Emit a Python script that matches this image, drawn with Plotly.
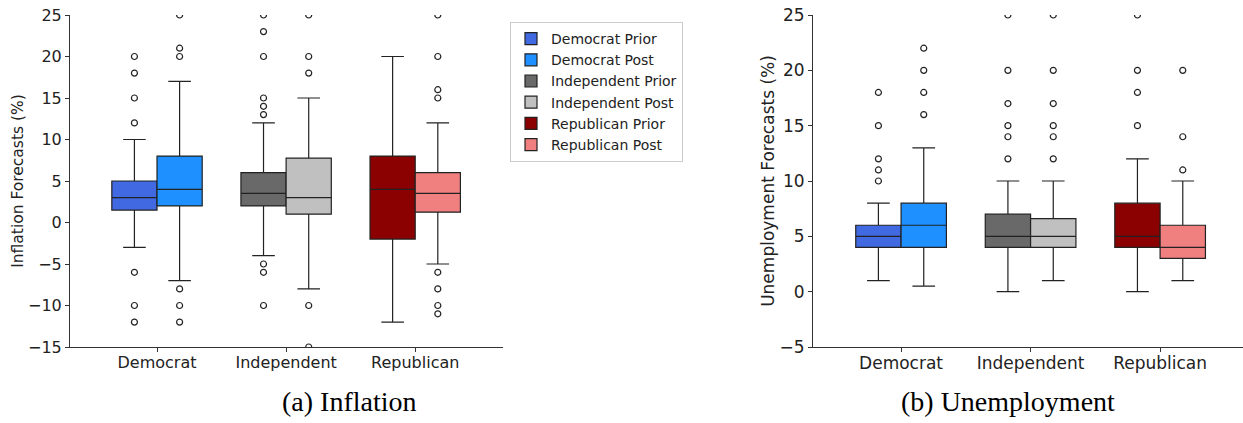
import plotly.graph_objects as go

# ---------------- data ----------------
categories = ["Democrat", "Independent", "Republican"]
periods = ["Prior", "Post"]

# Inflation forecasts (%)
infl_prior_q1 = [1.5, 2.0, -2.0]
infl_prior_med = [3.0, 3.5, 4.0]
infl_prior_q3 = [5.0, 6.0, 8.0]
infl_prior_lo = [-3.0, -4.0, -12.0]
infl_prior_hi = [10.0, 12.0, 20.0]
infl_prior_out = [[20, 18, 15, 12, -6, -10, -12],
                  [25, 23, 20, 15, 14, 13, -5, -6, -10],
                  []]
infl_post_q1 = [2.0, 1.0, 1.25]
infl_post_med = [4.0, 3.0, 3.5]
infl_post_q3 = [8.0, 7.75, 6.0]
infl_post_lo = [-7.0, -8.0, -5.0]
infl_post_hi = [17.0, 15.0, 12.0]
infl_post_out = [[25, 21, 20, -8, -10, -12],
                 [25, 20, 18, -10, -15],
                 [25, 20, 16, 15, -6, -8, -10, -11]]

# Unemployment forecasts (%)
unemp_prior_q1 = [4.0, 4.0, 4.0]
unemp_prior_med = [5.0, 5.0, 5.0]
unemp_prior_q3 = [6.0, 7.0, 8.0]
unemp_prior_lo = [1.0, 0.0, 0.0]
unemp_prior_hi = [8.0, 10.0, 12.0]
unemp_prior_out = [[18, 15, 12, 11, 10],
                   [25, 20, 17, 15, 14, 12],
                   [25, 20, 18, 15]]
unemp_post_q1 = [4.0, 4.0, 3.0]
unemp_post_med = [6.0, 5.0, 4.0]
unemp_post_q3 = [8.0, 6.6, 6.0]
unemp_post_lo = [0.5, 1.0, 1.0]
unemp_post_hi = [13.0, 10.0, 10.0]
unemp_post_out = [[22, 20, 18, 16],
                  [25, 20, 17, 15, 14, 12],
                  [20, 14, 11]]

colors = {
    ("Democrat", "Prior"): "#4169E1",
    ("Democrat", "Post"): "#1E90FF",
    ("Independent", "Prior"): "#696969",
    ("Independent", "Post"): "#C0C0C0",
    ("Republican", "Prior"): "#8B0000",
    ("Republican", "Post"): "#F08080",
}

# ---------------- layout constants ----------------
W, H = 1243, 423
ML, MR, MT, MB = 70, 0, 15, 76
PW = W - ML - MR
PH = H - MT - MB
BOX_W = 0.35
OFFS = {"Prior": -BOX_W / 2, "Post": BOX_W / 2}
LINE = "#222222"
FONT = "DejaVu Sans"

inflation = {
    "Prior": (infl_prior_q1, infl_prior_med, infl_prior_q3, infl_prior_lo, infl_prior_hi, infl_prior_out),
    "Post": (infl_post_q1, infl_post_med, infl_post_q3, infl_post_lo, infl_post_hi, infl_post_out),
}
unemployment = {
    "Prior": (unemp_prior_q1, unemp_prior_med, unemp_prior_q3, unemp_prior_lo, unemp_prior_hi, unemp_prior_out),
    "Post": (unemp_post_q1, unemp_post_med, unemp_post_q3, unemp_post_lo, unemp_post_hi, unemp_post_out),
}

fig = go.Figure()


def add_panel(stats, xa, ya, legend):
    for ci, cat in enumerate(categories):
        for per in periods:
            q1, med, q3, lo, hi, out = stats[per]
            pos = ci + OFFS[per]
            fig.add_trace(go.Box(
                x=[pos], q1=[q1[ci]], median=[med[ci]], q3=[q3[ci]],
                lowerfence=[lo[ci]], upperfence=[hi[ci]],
                width=BOX_W, whiskerwidth=0.5,
                fillcolor=colors[(cat, per)],
                line=dict(color=LINE, width=1.2),
                boxpoints=False,
                name=f"{cat} {per}",
                showlegend=legend, xaxis=xa, yaxis=ya,
            ))
            if out[ci]:
                fig.add_trace(go.Scatter(
                    x=[pos] * len(out[ci]), y=out[ci], mode="markers",
                    marker=dict(symbol="circle-open", size=6,
                                color=LINE, line=dict(width=1.2, color=LINE)),
                    showlegend=False, xaxis=xa, yaxis=ya, hoverinfo="skip",
                ))


add_panel(inflation, "x", "y", True)
add_panel(unemployment, "x2", "y2", False)

# axis domains from pixel layout
x1_dom = [0, (503 - ML) / PW]
x2_dom = [(813 - ML) / PW, 1]

common_axis = dict(showline=True, linecolor="#333333", linewidth=1, ticks="outside",
                   ticklen=4, tickcolor="#333333", showgrid=False, zeroline=False,
                   mirror=False, tickangle=0)

fig.update_layout(
    width=W, height=H,
    margin=dict(l=ML, r=MR, t=MT, b=MB, autoexpand=False),
    paper_bgcolor="white", plot_bgcolor="white",
    font=dict(family=FONT, color="#222222"),
    boxmode="overlay",
    xaxis=dict(domain=x1_dom, range=[-0.674, 2.68], tickvals=[0, 1, 2], ticktext=categories,
               tickfont=dict(size=16), ticklabelstandoff=-3, anchor="y", **common_axis),
    yaxis=dict(domain=[0, 1], range=[-15, 25], dtick=5, tickfont=dict(size=16),
               title=dict(text="Inflation Forecasts (%)", font=dict(size=15.5), standoff=0),
               anchor="x", **common_axis),
    xaxis2=dict(domain=x2_dom, range=[-0.68, 2.64], tickvals=[0, 1, 2], ticktext=categories,
                tickfont=dict(size=17), ticklabelstandoff=-3, anchor="y2", **common_axis),
    yaxis2=dict(domain=[0, 1], range=[-5, 25], dtick=5, tickfont=dict(size=17),
                title=dict(text="Unemployment Forecasts (%)", font=dict(size=17), standoff=0),
                anchor="x2", **common_axis),
    legend=dict(x=(510 - ML) / PW, y=(H - MB - 22) / PH,
                xanchor="left", yanchor="top", bgcolor="white", tracegroupgap=0,
                bordercolor="#cccccc", borderwidth=1, font=dict(size=14, family=FONT)),
    annotations=[
        dict(text="(a) Inflation", xref="paper", yref="paper",
             x=(349.5 - ML) / PW, y=(H - MB - 401) / PH,
             xanchor="center", yanchor="middle", showarrow=False,
             font=dict(family="Liberation Serif", size=28, color="black")),
        dict(text="(b) Unemployment", xref="paper", yref="paper",
             x=(1007.5 - ML) / PW, y=(H - MB - 401) / PH,
             xanchor="center", yanchor="middle", showarrow=False,
             font=dict(family="Liberation Serif", size=28, color="black")),
    ],
)

fig.write_html("out.html")
